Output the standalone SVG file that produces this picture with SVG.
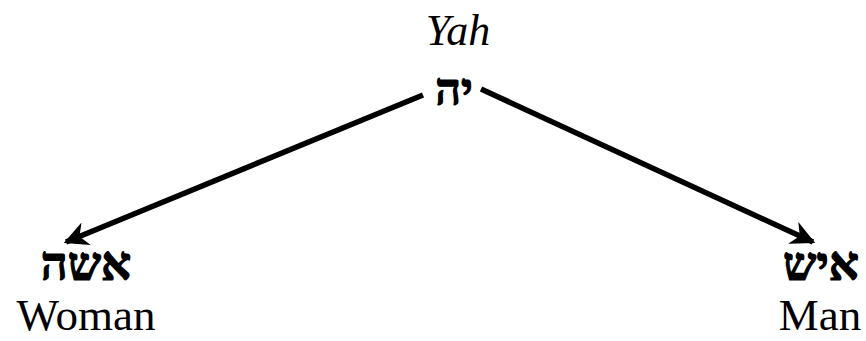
<svg xmlns="http://www.w3.org/2000/svg" width="866" height="341" viewBox="0 0 866 341">
<style>
.lat{font-family:"Liberation Serif","Times New Roman",serif;fill:#000;text-anchor:middle}
.heb{font-family:"Liberation Serif","DejaVu Serif",serif;font-weight:bold;fill:#000;stroke:#000;stroke-width:1.2;text-anchor:middle}
.conn{stroke:#000;stroke-width:5.5;fill:none}
</style>
<defs>
<marker id="ah" viewBox="0 0 10 10" refX="9" refY="5" markerWidth="4.4" markerHeight="4.4" orient="auto" markerUnits="strokeWidth">
<path d="M0,0 L10,5 L0,10 L3,5 Z" fill="#000"/>
</marker>
</defs>
<rect width="866" height="341" fill="#fff"/>
<g id="yah">
<text class="lat" x="458" y="45" font-size="44" font-style="italic">Yah</text>
<text class="heb" x="454" y="105" font-size="45">יה</text>
</g>
<g id="woman">
<text class="heb" x="86" y="280" font-size="47">אשה</text>
<text class="lat" x="86" y="330" font-size="45">Woman</text>
</g>
<g id="man">
<text class="heb" x="821" y="280" font-size="47">איש</text>
<text class="lat" x="820" y="330" font-size="45">Man</text>
</g>
<g id="connectors">
<line class="conn" x1="423" y1="95" x2="66" y2="242" marker-end="url(#ah)"/>
<line class="conn" x1="481" y1="89" x2="813" y2="242" marker-end="url(#ah)"/>
</g>
</svg>
